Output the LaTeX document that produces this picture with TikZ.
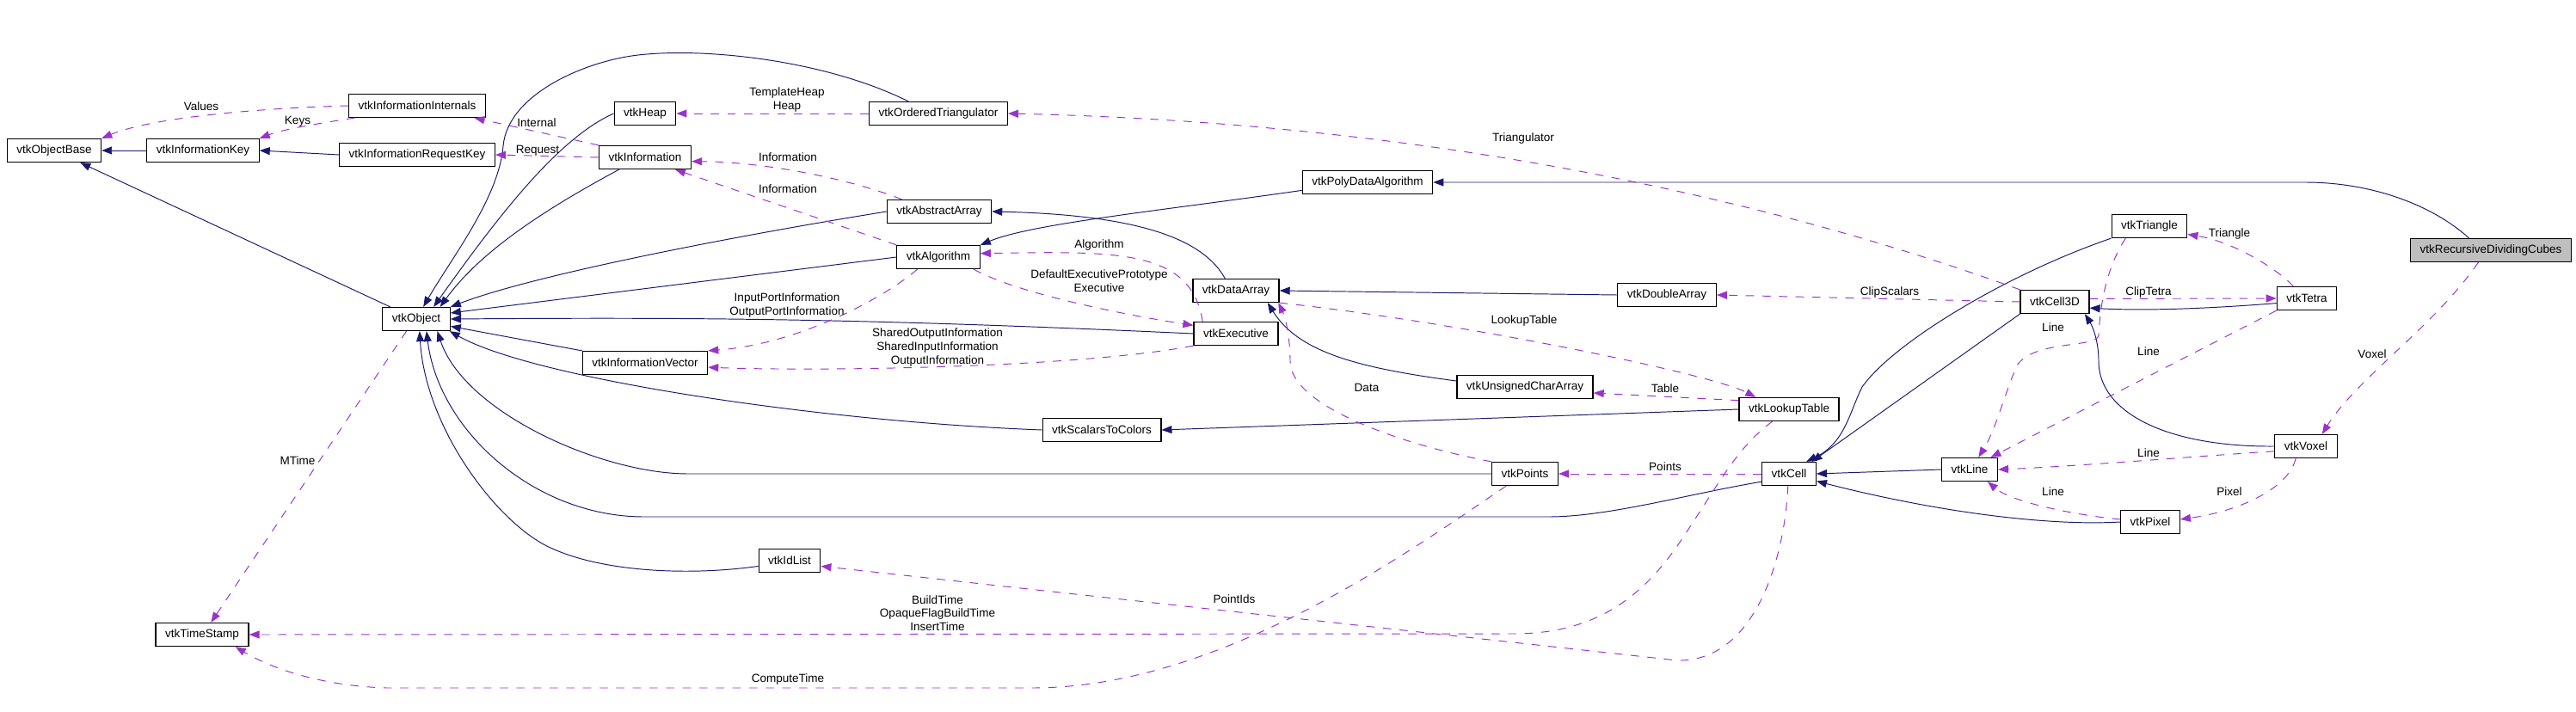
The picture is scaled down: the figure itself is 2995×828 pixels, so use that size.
\documentclass[tikz,border=0pt]{standalone}
\usepackage{fontspec}
\setmainfont{Liberation Sans}
\usepackage{tikz}
\usetikzlibrary{arrows.meta}
\definecolor{navy}{HTML}{191970}
\definecolor{orchid}{HTML}{9A32CD}
\definecolor{focus}{HTML}{BFBFBF}
\tikzset{%
  entity/.style={draw,line width=0.7pt,fill=white,inner xsep=0.22cm,inner ysep=0pt,minimum height=0.54cm,font=\fontsize{7.7}{9}\selectfont},
  inherit/.style={draw=navy,line width=0.55pt,-{Triangle[length=0.24cm,width=0.18cm]}},
  member/.style={draw=orchid,line width=0.55pt,dash pattern=on 5.5pt off 5.5pt,-{Triangle[length=0.24cm,width=0.18cm]}},
  edgetext/.style={font=\fontsize{7.7}{9}\selectfont,align=center,inner sep=0pt},
}

\begin{document}
\begin{tikzpicture}[x=0.02cm,y=-0.02cm]
      \fill[white,use as bounding box] (0,0) rectangle (2995,828);

      \node[entity] (objectBase) at (63,175) {vtkObjectBase};
      \node[entity] (informationKey) at (236,175) {vtkInformationKey};
      \node[entity] (informationInternals) at (485,123) {vtkInformationInternals};
      \node[entity] (informationRequestKey) at (485,180) {vtkInformationRequestKey};
      \node[entity] (heap) at (750,132) {vtkHeap};
      \node[entity] (information) at (750,183) {vtkInformation};
      \node[entity] (object) at (484,371) {vtkObject};
      \node[entity] (informationVector) at (750,422) {vtkInformationVector};
      \node[entity] (timeStamp) at (235,738) {vtkTimeStamp};
      \node[entity] (orderedTriangulator) at (1091,132) {vtkOrderedTriangulator};
      \node[entity] (abstractArray) at (1092,246) {vtkAbstractArray};
      \node[entity] (algorithm) at (1091,299) {vtkAlgorithm};
      \node[entity] (dataArray) at (1437,338) {vtkDataArray};
      \node[entity] (executive) at (1437,388) {vtkExecutive};
      \node[entity] (scalarsToColors) at (1281,500) {vtkScalarsToColors};
      \node[entity] (idList) at (918,652) {vtkIdList};
      \node[entity] (polyDataAlgorithm) at (1590,212) {vtkPolyDataAlgorithm};
      \node[entity] (doubleArray) at (1938,343) {vtkDoubleArray};
      \node[entity] (unsignedCharArray) at (1773,450) {vtkUnsignedCharArray};
      \node[entity] (lookupTable) at (2080,476) {vtkLookupTable};
      \node[entity] (points) at (1773,551) {vtkPoints};
      \node[entity] (cell) at (2080,551) {vtkCell};
      \node[entity] (triangle) at (2499,263) {vtkTriangle};
      \node[entity] (cell3D) at (2389,351) {vtkCell3D};
      \node[entity] (tetra) at (2682,347) {vtkTetra};
      \node[entity,fill=focus] (dividingCubes) at (2896,291) {vtkRecursiveDividingCubes};
      \node[entity] (line) at (2290,546) {vtkLine};
      \node[entity] (voxel) at (2681,519) {vtkVoxel};
      \node[entity] (pixel) at (2500,607) {vtkPixel};

      \draw[inherit] (informationKey) -- (objectBase);
      \draw[inherit] (informationRequestKey.west) -- (informationKey.east);
      \draw[inherit] (object) -- (objectBase);
      \draw[inherit] (heap.west) .. controls (650,160) and (580,250) .. (object.35);
      \draw[inherit] (orderedTriangulator.158) .. controls (960,70) and (820,55) .. (742,64) .. controls (680,71) and (590,110) .. (585,170) .. controls (580,230) and (525,300) .. (object.60);
      \draw[inherit] (information.205) .. controls (640,240) and (560,290) .. (object.27);
      \draw[inherit] (abstractArray.west) .. controls (850,275) and (620,320) .. (object.north east);
      \draw[inherit] (algorithm.west) -- (object.10);
      \draw[inherit] (executive.west) .. controls (1000,370) and (800,369) .. (object.east);
      \draw[inherit] (informationVector.north west) -- (object.-12);
      \draw[inherit] (scalarsToColors.west) .. controls (950,490) and (620,440) .. (object.-20);
      \draw[inherit] (points.west) -- (800,551) .. controls (700,551) and (540,480) .. (object.-30);
      \draw[inherit] (cell.196) .. controls (1960,575) and (1870,601) .. (1800,601) -- (747,601) .. controls (620,600) and (510,500) .. (object.-50);
      \draw[inherit] (idList.190) .. controls (800,670) and (700,665) .. (640,637) .. controls (580,610) and (495,500) .. (object.-75);
      \draw[inherit] (dataArray.132) .. controls (1400,280) and (1330,250) .. (abstractArray.east);
      \draw[inherit] (polyDataAlgorithm.187) .. controls (1350,245) and (1200,260) .. (algorithm.north east);
      \draw[inherit] (dividingCubes.151) .. controls (2830,240) and (2760,212) .. (2680,212) -- (polyDataAlgorithm.east);
      \draw[inherit] (doubleArray.west) -- (dataArray.east);
      \draw[inherit] (unsignedCharArray.175) .. controls (1580,428) and (1510,410) .. (dataArray.-21);
      \draw[inherit] (lookupTable.west) -- (scalarsToColors.east);
      \draw[inherit] (triangle.south west) .. controls (2330,320) and (2200,400) .. (2165,450) .. controls (2150,480) and (2145,515) .. (cell.35);
      \draw[inherit] (cell3D.south west) -- (cell.28);
      \draw[inherit] (line.west) -- (cell.east);
      \draw[inherit] (pixel.west) .. controls (2380,612) and (2250,595) .. (cell.-15);
      \draw[inherit] (tetra.189) .. controls (2580,358) and (2500,362) .. (cell3D.-10);
      \draw[inherit] (voxel.west) .. controls (2520,520) and (2440,480) .. (2440,420) .. controls (2440,395) and (2432,378) .. (cell3D.-22);

      \draw[member] (informationInternals.west) .. controls (320,125) and (180,135) .. (objectBase.north east);
      \draw[member] (informationInternals.191) .. controls (380,142) and (330,150) .. (informationKey.north east);
      \draw[member] (information.north west) -- (informationInternals.-12);
      \draw[member] (information.west) -- (informationRequestKey.east);
      \draw[member] (orderedTriangulator.west) -- (heap.east);
      \draw[member] (abstractArray.162) .. controls (980,205) and (880,188) .. (information.-5);
      \draw[member] (algorithm.north west) -- (information.-22);
      \draw[member] (executive.160) .. controls (1385,290) and (1300,292) .. (algorithm.5);
      \draw[member] (algorithm.-19) .. controls (1180,340) and (1300,365) .. (executive.169);
      \draw[member] (algorithm.210) .. controls (1030,345) and (930,400) .. (informationVector.north east);
      \draw[member] (executive.south west) .. controls (1250,428) and (950,432) .. (informationVector.-4);
      \draw[member] (object.231) -- (timeStamp.54);
      \draw[member] (cell3D.north west) .. controls (2150,265) and (1750,145) .. (orderedTriangulator.east);
      \draw[member] (cell3D.west) -- (doubleArray.east);
      \draw[member] (dataArray.south east) .. controls (1700,375) and (1990,435) .. (lookupTable.160);
      \draw[member] (lookupTable.170) -- (unsignedCharArray.-5);
      \draw[member] (points.north west) .. controls (1620,515) and (1500,470) .. (1500,420) .. controls (1500,395) and (1495,370) .. (dataArray.-16);
      \draw[member] (cell.west) -- (points.east);
      \draw[member] (cell.-95) .. controls (2075,650) and (2040,770) .. (1950,768) -- (idList.-10);
      \draw[member] (lookupTable.216) .. controls (2020,520) and (2000,560) .. (1960,620) .. controls (1915,690) and (1860,737) .. (1760,737) -- (timeStamp.east);
      \draw[member] (points.213) .. controls (1640,640) and (1420,800) .. (1200,800) -- (450,800) .. controls (380,798) and (320,780) .. (timeStamp.-20);
      \draw[member] (cell3D.5) -- (tetra.west);
      \draw[member] (tetra.138) .. controls (2650,315) and (2600,282) .. (triangle.-12);
      \draw[member] (triangle.207) .. controls (2450,310) and (2442,350) .. (2440,390) .. controls (2438,405) and (2365,395) .. (2345,425) .. controls (2330,460) and (2320,500) .. (line.54);
      \draw[member] (tetra.south west) -- (line.30);
      \draw[member] (voxel.189) .. controls (2560,530) and (2420,542) .. (line.east);
      \draw[member] (pixel.175) .. controls (2420,600) and (2340,585) .. (line.-34);
      \draw[member] (voxel.230) .. controls (2660,570) and (2600,595) .. (pixel.5);
      \draw[member] (dividingCubes.224) .. controls (2830,380) and (2740,440) .. (voxel.37);

      \node[edgetext] (valuesText) at (234,124) {Values};
      \node[edgetext] (keysText) at (346,141) {Keys};
      \node[edgetext] (internalText) at (624,143) {Internal};
      \node[edgetext] (requestText) at (625,175) {Request};
      \node[edgetext] (heapText) at (915,116) {TemplateHeap\\Heap};
      \node[edgetext] (arrayInfoText) at (916,183) {Information};
      \node[edgetext] (algorithmInfoText) at (916,220) {Information};
      \node[edgetext] (algorithmText) at (1278,285) {Algorithm};
      \node[edgetext] (executiveText) at (1278,327) {DefaultExecutivePrototype\\Executive};
      \node[edgetext] (portText) at (915,355) {InputPortInformation\\OutputPortInformation};
      \node[edgetext] (sharedText) at (1090,404) {SharedOutputInformation\\SharedInputInformation\\OutputInformation};
      \node[edgetext] (mTimeText) at (346,536) {MTime};
      \node[edgetext] (triangulatorText) at (1771,161) {Triangulator};
      \node[edgetext] (clipScalarsText) at (2197,340) {ClipScalars};
      \node[edgetext] (lookupText) at (1772,373) {LookupTable};
      \node[edgetext] (tableText) at (1936,452) {Table};
      \node[edgetext] (dataText) at (1589,451) {Data};
      \node[edgetext] (pointsText) at (1936,543) {Points};
      \node[edgetext] (pointIdsText) at (1435,697) {PointIds};
      \node[edgetext] (buildTimeText) at (1090,713) {BuildTime\\OpaqueFlagBuildTime\\InsertTime};
      \node[edgetext] (computeTimeText) at (916,790) {ComputeTime};
      \node[edgetext] (clipTetraText) at (2498,340) {ClipTetra};
      \node[edgetext] (triangleText) at (2592,272) {Triangle};
      \node[edgetext] (triangleLineText) at (2387,381) {Line};
      \node[edgetext] (tetraLineText) at (2498,409) {Line};
      \node[edgetext] (voxelLineText) at (2498,527) {Line};
      \node[edgetext] (pixelLineText) at (2387,572) {Line};
      \node[edgetext] (pixelText) at (2592,572) {Pixel};
      \node[edgetext] (voxelText) at (2758,412) {Voxel};
    \end{tikzpicture}
\end{document}
